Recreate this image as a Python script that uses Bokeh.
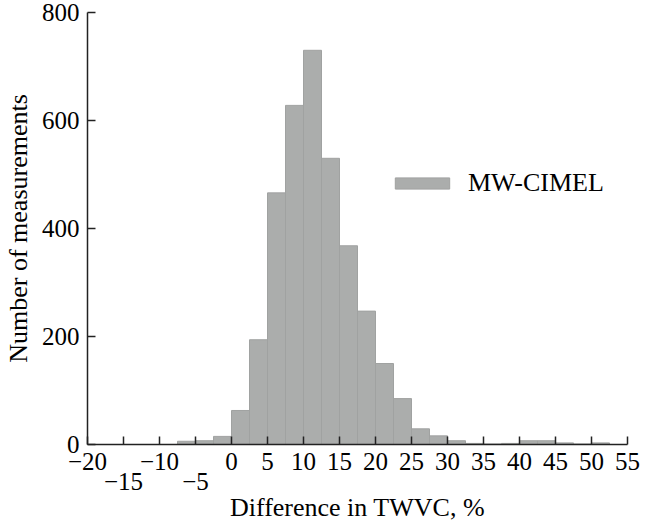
from bokeh.plotting import figure
from bokeh.models import LinearAxis, FixedTicker, Range1d, Legend, LegendItem
from bokeh.embed import file_html
from bokeh.resources import INLINE

# ---- data ----
bin_left = [-7.5, -5, -2.5, 0, 2.5, 5, 7.5, 10, 12.5, 15, 17.5, 20, 22.5,
            25, 27.5, 30, 32.5, 35, 37.5, 40, 42.5, 45, 47.5, 50]
bin_right = [-5, -2.5, 0, 2.5, 5, 7.5, 10, 12.5, 15, 17.5, 20, 22.5, 25,
             27.5, 30, 32.5, 35, 37.5, 40, 42.5, 45, 47.5, 50, 52.5]
counts = [6, 7, 15, 63, 194, 466, 628, 730, 530, 368, 247, 150, 85,
          29, 16, 7, 2, 1, 2, 7, 7, 3, 1, 3]
x_ticks = [-20, -15, -10, -5, 0, 5, 10, 15, 20, 25, 30, 35, 40, 45, 50, 55]
x_ticks_low = [-15, -5]
y_ticks = [0, 200, 400, 600, 800]
series_name = "MW-CIMEL"
x_title = "Difference in TWVC, %"
y_title = "Number of measurements"

FONT = "Liberation Serif"

def fmt(t):
    return ("\u2212" + str(abs(t))) if t < 0 else str(t)

p = figure(width=640, height=524, output_backend="svg", toolbar_location=None,
           x_range=Range1d(-20, 55), y_range=Range1d(0, 800),
           min_border_left=85, min_border_right=13, min_border_top=12)
p.outline_line_color = None
p.xgrid.visible = False
p.ygrid.visible = False
p.background_fill_color = "white"

r = p.quad(left=bin_left, right=bin_right, bottom=0, top=counts,
           fill_color="#abadac", line_color="#a0a2a1", line_width=1)

# primary x axis
xa = p.xaxis[0]
xa.ticker = FixedTicker(ticks=x_ticks)
xa.major_label_overrides = {t: ("" if t in x_ticks_low else fmt(t)) for t in x_ticks}
xa.major_tick_in = 8
xa.major_tick_out = 0
xa.minor_tick_line_color = None
xa.axis_line_color = "#222222"
xa.axis_line_width = 1.5
xa.major_tick_line_color = "#222222"
xa.major_tick_line_width = 1.5
xa.major_label_text_font = FONT
xa.major_label_text_font_size = "25px"
xa.major_label_text_color = "black"
xa.major_label_standoff = 8

# second row of x labels
xa2 = LinearAxis(ticker=FixedTicker(ticks=x_ticks_low))
xa2.major_label_overrides = {t: fmt(t) for t in x_ticks_low}
xa2.axis_line_color = None
xa2.major_tick_line_color = None
xa2.minor_tick_line_color = None
xa2.major_tick_in = 0
xa2.major_tick_out = 0
xa2.major_label_text_font = FONT
xa2.major_label_text_font_size = "25px"
xa2.major_label_text_color = "black"
xa2.major_label_standoff = 0
xa2.axis_label = x_title
xa2.axis_label_text_font = FONT
xa2.axis_label_text_font_size = "26px"
xa2.axis_label_text_font_style = "normal"
xa2.axis_label_text_color = "black"
xa2.axis_label_standoff = 0
p.add_layout(xa2, "below")

ya = p.yaxis[0]
ya.ticker = FixedTicker(ticks=y_ticks)
ya.major_tick_in = 8
ya.major_tick_out = 0
ya.minor_tick_line_color = None
ya.axis_line_color = "#222222"
ya.axis_line_width = 1.5
ya.major_tick_line_color = "#222222"
ya.major_tick_line_width = 1.5
ya.major_label_text_font = FONT
ya.major_label_text_font_size = "25px"
ya.major_label_text_color = "black"
ya.major_label_standoff = 8
ya.axis_label = y_title
ya.axis_label_text_font = FONT
ya.axis_label_text_font_size = "26px"
ya.axis_label_text_font_style = "normal"
ya.axis_label_text_color = "black"
ya.axis_label_standoff = 6

legend = Legend(items=[LegendItem(label=series_name, renderers=[r])],
                location=(301, 246), margin=0, padding=0,
                glyph_width=68, glyph_height=14, label_standoff=12,
                background_fill_alpha=0, border_line_alpha=0,
                label_text_font=FONT, label_text_font_size="26px",
                label_text_color="black")
p.add_layout(legend, "center")

open("out.html", "w").write(file_html(p, INLINE))
